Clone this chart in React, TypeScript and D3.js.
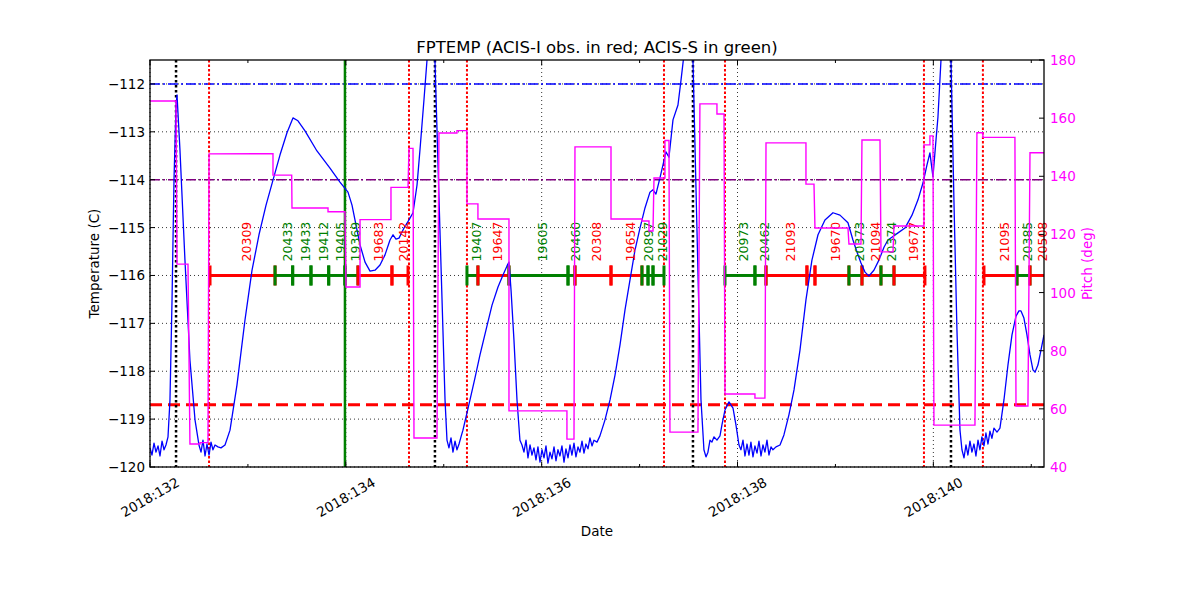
import React from "react";
import * as d3 from "d3";

// ---------- axes ----------
const timeDomain = [132.0, 141.13];
const tempDomain = [-120, -111.5];
const pitchDomain = [40, 180];
const tempTicks = [-120, -119, -118, -117, -116, -115, -114, -113, -112];
const pitchTicks = [40, 60, 80, 100, 120, 140, 160, 180];
const majorDays = [132, 134, 136, 138, 140];
const majorDayLabels = ["2018:132", "2018:134", "2018:136", "2018:138", "2018:140"];
const minorDays = [133, 135, 137, 139, 141];

// ---------- limits ----------
const acisSLimit = -112;
const acisILimit = -114;
const fpSensLimit = -118.7;
const obsidLevel = -116;

// ---------- FPTEMP model (day of year, deg C) ----------
const tempTime = [
  132.0, 132.02, 132.041, 132.061, 132.082, 132.102, 132.123, 132.143, 132.163, 132.184,
  132.204, 132.225, 132.245, 132.266, 132.276, 132.306, 132.357, 132.408, 132.46, 132.5,
  132.521, 132.541, 132.562, 132.582, 132.603, 132.623, 132.643, 132.664, 132.694, 132.725,
  132.766, 132.817, 132.888, 132.97, 133.042, 133.113, 133.185, 133.256, 133.328, 133.399,
  133.46, 133.511, 133.583, 133.705, 133.838, 133.94, 134.022, 134.063, 134.104, 134.145,
  134.196, 134.247, 134.298, 134.349, 134.4, 134.451, 134.482, 134.512, 134.543, 134.594,
  134.645, 134.686, 134.727, 134.757, 134.798, 134.829, 134.849, 134.87, 134.89, 134.91,
  134.961, 135.013, 135.033, 135.053, 135.074, 135.094, 135.115, 135.135, 135.156, 135.176,
  135.196, 135.227, 135.268, 135.319, 135.37, 135.431, 135.493, 135.554, 135.605, 135.646,
  135.666, 135.687, 135.717, 135.748, 135.778, 135.799, 135.819, 135.84, 135.86, 135.881,
  135.901, 135.921, 135.942, 135.962, 135.983, 136.003, 136.024, 136.044, 136.064, 136.085,
  136.105, 136.126, 136.146, 136.166, 136.187, 136.207, 136.228, 136.248, 136.269, 136.289,
  136.309, 136.33, 136.35, 136.371, 136.391, 136.412, 136.432, 136.452, 136.473, 136.493,
  136.514, 136.534, 136.565, 136.595, 136.646, 136.698, 136.749, 136.8, 136.851, 136.902,
  136.953, 137.004, 137.055, 137.106, 137.137, 137.167, 137.208, 137.239, 137.269, 137.3,
  137.341, 137.392, 137.423, 137.453, 137.484, 137.504, 137.525, 137.545, 137.586, 137.627,
  137.657, 137.678, 137.698, 137.719, 137.739, 137.76, 137.79, 137.821, 137.841, 137.872,
  137.913, 137.954, 137.984, 138.015, 138.035, 138.056, 138.076, 138.097, 138.117, 138.137,
  138.158, 138.178, 138.199, 138.219, 138.24, 138.26, 138.28, 138.301, 138.321, 138.342,
  138.362, 138.393, 138.434, 138.474, 138.525, 138.577, 138.638, 138.699, 138.76, 138.822,
  138.893, 138.975, 139.046, 139.128, 139.179, 139.22, 139.261, 139.302, 139.342, 139.393,
  139.444, 139.496, 139.536, 139.577, 139.639, 139.71, 139.782, 139.843, 139.894, 139.935,
  139.965, 139.996, 140.027, 140.047, 140.078, 140.098, 140.119, 140.139, 140.159, 140.18,
  140.21, 140.241, 140.272, 140.292, 140.313, 140.333, 140.353, 140.374, 140.394, 140.415,
  140.435, 140.456, 140.476, 140.496, 140.517, 140.537, 140.558, 140.578, 140.598, 140.619,
  140.65, 140.68, 140.721, 140.762, 140.803, 140.844, 140.874, 140.895, 140.925, 140.956,
  140.987, 141.017, 141.038, 141.068, 141.099, 141.13,
];
const tempValue = [
  -119.6, -119.75, -119.5, -119.69, -119.56, -119.77, -119.46, -119.64, -119.54, -119.37,
  -118.6, -116.51, -114.01, -112.44, -112.23, -113.38, -115.68, -117.77, -119.02, -119.54,
  -119.69, -119.44, -119.77, -119.52, -119.75, -119.48, -119.64, -119.54, -119.58, -119.6,
  -119.54, -119.23, -118.29, -116.93, -115.89, -115.15, -114.53, -114.01, -113.48, -113.02,
  -112.71, -112.77, -112.98, -113.4, -113.76, -114.05, -114.26, -114.53, -114.95, -115.36,
  -115.72, -115.91, -115.89, -115.78, -115.57, -115.26, -115.15, -115.24, -115.22, -115.01,
  -114.84, -114.69, -114.11, -113.38, -112.33, -111.5, -110.87, -110.25, -110.46, -111.5,
  -115.05, -118.6, -119.44, -119.6, -119.39, -119.69, -119.46, -119.64, -119.52, -119.37,
  -119.23, -118.96, -118.6, -118.14, -117.66, -117.14, -116.62, -116.24, -115.99, -115.8,
  -115.72, -116.3, -117.35, -118.6, -119.44, -119.54, -119.69, -119.44, -119.81, -119.54,
  -119.75, -119.6, -119.85, -119.58, -119.9, -119.64, -119.81, -119.56, -119.92, -119.69,
  -119.83, -119.58, -119.87, -119.64, -119.77, -119.56, -119.9, -119.62, -119.81, -119.54,
  -119.75, -119.5, -119.79, -119.58, -119.69, -119.46, -119.71, -119.52, -119.62, -119.39,
  -119.56, -119.44, -119.48, -119.35, -119.02, -118.6, -118.08, -117.45, -116.72, -116.09,
  -115.47, -115.01, -114.59, -114.26, -114.21, -114.3, -113.96, -113.69, -113.42, -113.53,
  -112.75, -112.44, -111.92, -111.39, -110.66, -110.56, -110.87, -111.5, -115.05, -118.6,
  -119.64, -119.79, -119.69, -119.44, -119.48, -119.37, -119.44, -119.35, -119.12, -118.81,
  -118.64, -118.77, -119.12, -119.54, -119.64, -119.44, -119.77, -119.52, -119.75, -119.48,
  -119.79, -119.56, -119.71, -119.46, -119.77, -119.54, -119.69, -119.44, -119.75, -119.58,
  -119.64, -119.58, -119.54, -119.33, -118.91, -118.39, -117.56, -116.51, -115.68, -115.15,
  -114.84, -114.69, -114.74, -114.9, -115.26, -115.51, -115.74, -115.93, -116.01, -115.89,
  -115.68, -115.41, -115.26, -115.2, -115.11, -115.01, -114.74, -114.42, -114.07, -113.69,
  -113.44, -113.94, -113.17, -112.69, -111.5, -110.66, -110.25, -110.35, -110.87, -111.5,
  -114.42, -117.14, -119.23, -119.64, -119.81, -119.54, -119.75, -119.46, -119.69, -119.52,
  -119.77, -119.44, -119.64, -119.37, -119.56, -119.29, -119.52, -119.25, -119.4, -119.19,
  -119.27, -119.19, -118.6, -117.87, -117.24, -116.85, -116.74, -116.74, -116.89, -117.24,
  -117.66, -117.97, -118.02, -117.87, -117.56, -117.24,
];

// ---------- Pitch (day of year, deg) ----------
const pitchTime = [
  132.0, 132.266, 132.276, 132.388, 132.408, 132.511, 132.511, 132.592, 132.603, 133.256,
  133.256, 133.447, 133.45, 133.818, 133.818, 133.991, 134.002, 134.145, 134.145, 134.461,
  134.461, 134.635, 134.645, 134.686, 134.696, 134.931, 134.951, 135.135, 135.135, 135.237,
  135.237, 135.349, 135.349, 135.666, 135.666, 136.258, 136.258, 136.33, 136.34, 136.708,
  136.708, 137.024, 137.024, 137.096, 137.096, 137.137, 137.147, 137.259, 137.259, 137.3,
  137.31, 137.596, 137.616, 137.79, 137.79, 137.862, 137.872, 138.178, 138.178, 138.28,
  138.291, 138.699, 138.699, 138.781, 138.791, 139.128, 139.138, 139.261, 139.271, 139.455,
  139.465, 139.588, 139.598, 139.904, 139.904, 139.965, 139.965, 139.996, 140.006, 140.425,
  140.445, 140.506, 140.506, 140.833, 140.844, 140.966, 140.987, 141.13,
];
const pitchValue = [
  165.9, 165.9, 109.8, 109.8, 47.9, 47.9, 48.4, 48.4, 147.7, 147.8,
  140.4, 140.4, 129.1, 129.1, 127.8, 127.8, 101.9, 101.9, 125.1, 125.1,
  136.2, 136.2, 149.6, 149.6, 50.0, 50.0, 154.9, 154.9, 155.7, 155.7,
  130.5, 130.5, 125.3, 125.3, 59.3, 59.3, 49.6, 49.6, 150.1, 150.1,
  125.3, 125.3, 124.6, 124.6, 121.2, 121.2, 139.4, 139.4, 152.3, 152.3,
  52.0, 52.0, 164.9, 164.9, 161.4, 161.4, 65.1, 65.1, 63.7, 63.7,
  151.5, 151.5, 137.3, 137.3, 122.2, 122.2, 116.7, 116.7, 152.5, 152.5,
  114.0, 114.0, 122.9, 122.9, 150.8, 150.8, 153.9, 153.9, 54.4, 54.4,
  155.0, 155.0, 153.4, 153.4, 61.0, 61.0, 148.1, 148.1,
];

// ---------- Observations ----------
const obsids = [
  "20309", "20433", "19433", "19412", "19405", "19369", "19683", "20142",
  "19407", "19647", "19605", "20460", "20308", "19654", "20897", "", "21029",
  "20973", "20462", "21093", "", "19670", "20373", "21094", "20374", "19677",
  "21095", "20385", "20508",
];
const obsStart = [
  132.613, 133.277, 133.457, 133.644, 133.825, 133.991, 134.124, 134.471,
  135.237, 135.349, 135.666, 136.269, 136.34, 136.708, 137.024, 137.086, 137.137,
  137.872, 138.178, 138.291, 138.709, 138.791, 139.138, 139.271, 139.465, 139.598,
  140.517, 140.854, 140.987,
];
const obsStop = [
  133.277, 133.457, 133.644, 133.825, 133.991, 134.124, 134.471, 134.635,
  135.349, 135.666, 136.269, 136.34, 136.708, 137.024, 137.086, 137.137, 137.249,
  138.178, 138.291, 138.709, 138.791, 139.138, 139.271, 139.465, 139.598, 139.914,
  140.854, 140.987, 141.17,
];
const obsInstr = [
  "I", "S", "S", "S", "S", "S", "I", "I",
  "S", "I", "S", "S", "I", "I", "S", "S", "S",
  "S", "S", "I", "I", "I", "S", "I", "S", "I",
  "I", "S", "I",
];

// ---------- Vertical markers ----------
const perigeeTimes = [132.266, 134.91, 137.545, 140.18];
const boundaryTimes = [132.603, 134.645, 135.237, 137.249, 137.872, 139.904, 140.506];
const nowTime = 133.991;

const P = { left: 150, right: 1044, top: 60, bottom: 467 };
const FONT = "DejaVu Sans, Liberation Sans, sans-serif";

export default function App() {
  const x = d3.scaleLinear().domain(timeDomain).range([P.left, P.right]);
  const yT = d3.scaleLinear().domain(tempDomain).range([P.bottom, P.top]);
  const yP = d3.scaleLinear().domain(pitchDomain).range([P.bottom, P.top]);

  const tempPath = d3
    .line<number>()
    .x((_, i) => x(tempTime[i]))
    .y((d) => yT(d))(tempValue) as string;
  const pitchPath = d3
    .line<number>()
    .x((_, i) => x(pitchTime[i]))
    .y((d) => yP(d))(pitchValue) as string;

  const obsY = yT(obsidLevel);
  const colorOf = (s: string) => (s === "I" ? "#ff0000" : "#008000");

  return (
    <div style={{ position: "absolute", left: 0, top: 0 }}>
      <svg width={1200} height={600} style={{ display: "block", background: "#fff" }} fontFamily={FONT}>
        <defs>
          <clipPath id="plotclip">
            <rect x={P.left} y={P.top} width={P.right - P.left} height={P.bottom - P.top} />
          </clipPath>
        </defs>
        <rect x={0} y={0} width={1200} height={600} fill="#fff" />

        {/* grid */}
        <g stroke="#000" strokeWidth={0.8} strokeDasharray="1,3">
          {tempTicks.map((t) => (
            <line key={"hg" + t} x1={P.left} x2={P.right} y1={yT(t)} y2={yT(t)} />
          ))}
          {majorDays.map((d) => (
            <line key={"vg" + d} x1={x(d)} x2={x(d)} y1={P.top} y2={P.bottom} />
          ))}
        </g>

        <g clipPath="url(#plotclip)">
          {/* limit lines */}
          <line x1={P.left} x2={P.right} y1={yT(acisSLimit)} y2={yT(acisSLimit)} stroke="#0000ff" strokeWidth={1.4} strokeDasharray="10,3,2,3" />
          <line x1={P.left} x2={P.right} y1={yT(acisILimit)} y2={yT(acisILimit)} stroke="#800080" strokeWidth={1.4} strokeDasharray="10,3,2,3" />
          <line x1={P.left} x2={P.right} y1={yT(fpSensLimit)} y2={yT(fpSensLimit)} stroke="#ff0000" strokeWidth={3} strokeDasharray="12,6" />

          {/* vertical markers */}
          {boundaryTimes.map((t, i) => (
            <line key={"b" + i} x1={x(t)} x2={x(t)} y1={P.top} y2={P.bottom} stroke="#ff0000" strokeWidth={2} strokeDasharray="2.5,2" />
          ))}
          {perigeeTimes.map((t, i) => (
            <line key={"p" + i} x1={x(t)} x2={x(t)} y1={P.top} y2={P.bottom} stroke="#000" strokeWidth={2.5} strokeDasharray="2.5,2.5" />
          ))}
          <line x1={x(nowTime)} x2={x(nowTime)} y1={P.top} y2={P.bottom} stroke="#008000" strokeWidth={2.5} />

          {/* obsid bars */}
          {obsids.map((o, i) => {
            const c = colorOf(obsInstr[i]);
            const a = x(obsStart[i]);
            const b = x(obsStop[i]);
            return (
              <g key={"ob" + i} stroke={c} strokeWidth={3}>
                <line x1={a} x2={b} y1={obsY} y2={obsY} />
                <line x1={a} x2={a} y1={obsY - 10} y2={obsY + 10} />
                <line x1={b} x2={b} y1={obsY - 10} y2={obsY + 10} />
              </g>
            );
          })}

          {/* temperature */}
          <path d={tempPath} fill="none" stroke="#0000ff" strokeWidth={1.3} strokeLinejoin="round" />
        </g>

        {/* obsid labels */}
        {obsids.map((o, i) =>
          o ? (
            <text
              key={"ol" + i}
              transform={`translate(${(x(obsStart[i]) + x(obsStop[i])) / 2 + 4},${obsY - 14}) rotate(-90)`}
              fill={colorOf(obsInstr[i])}
              fontSize={12.5}
              textAnchor="start"
              dominantBaseline="central"
            >
              {o}
            </text>
          ) : null
        )}

        {/* pitch */}
        <g clipPath="url(#plotclip)">
          <path d={pitchPath} fill="none" stroke="#ff00ff" strokeWidth={1.4} strokeLinejoin="miter" />
        </g>

        {/* frame */}
        <rect x={P.left} y={P.top} width={P.right - P.left} height={P.bottom - P.top} fill="none" stroke="#000" strokeWidth={1.3} />

        {/* left ticks */}
        {tempTicks.map((t) => (
          <g key={"lt" + t}>
            <line x1={P.left} x2={P.left + 5} y1={yT(t)} y2={yT(t)} stroke="#000" strokeWidth={1} />
            <text x={145} y={yT(t)} textAnchor="end" dominantBaseline="central" fontSize={13.5} fill="#000">
              {t < 0 ? "\u2212" + Math.abs(t) : String(t)}
            </text>
          </g>
        ))}

        {/* right ticks */}
        {pitchTicks.map((t) => (
          <g key={"rt" + t}>
            <line x1={P.right - 5} x2={P.right} y1={yP(t)} y2={yP(t)} stroke="#000" strokeWidth={1} />
            <text x={1050} y={yP(t)} textAnchor="start" dominantBaseline="central" fontSize={13.5} fill="#ff00ff">
              {t}
            </text>
          </g>
        ))}

        {/* x ticks */}
        {majorDays.map((d, i) => (
          <g key={"xt" + d}>
            <line x1={x(d)} x2={x(d)} y1={P.bottom} y2={P.bottom - 5.5} stroke="#000" strokeWidth={1} />
            <line x1={x(d)} x2={x(d)} y1={P.top} y2={P.top + 5.5} stroke="#000" strokeWidth={1} />
            <text
              transform={`translate(${x(d)},${497}) rotate(-30)`}
              textAnchor="middle"
              dominantBaseline="central"
              fontSize={13.5}
              fill="#000"
            >
              {majorDayLabels[i]}
            </text>
          </g>
        ))}
        {minorDays.map((d) => (
          <g key={"xm" + d}>
            <line x1={x(d)} x2={x(d)} y1={P.bottom} y2={P.bottom - 3} stroke="#000" strokeWidth={1} />
            <line x1={x(d)} x2={x(d)} y1={P.top} y2={P.top + 3} stroke="#000" strokeWidth={1} />
          </g>
        ))}

        {/* labels */}
        <text x={597} y={47} textAnchor="middle" dominantBaseline="central" fontSize={16.5} fill="#000">
          FPTEMP (ACIS-I obs. in red; ACIS-S in green)
        </text>
        <text x={597} y={531} textAnchor="middle" dominantBaseline="central" fontSize={13.5} fill="#000">
          Date
        </text>
        <text transform={`translate(94,${(P.top + P.bottom) / 2}) rotate(-90)`} textAnchor="middle" dominantBaseline="central" fontSize={13.5} fill="#000">
          Temperature (C)
        </text>
        <text transform={`translate(1087,${(P.top + P.bottom) / 2}) rotate(-90)`} textAnchor="middle" dominantBaseline="central" fontSize={13.5} fill="#ff00ff">
          Pitch (deg)
        </text>
      </svg>
    </div>
  );
}
